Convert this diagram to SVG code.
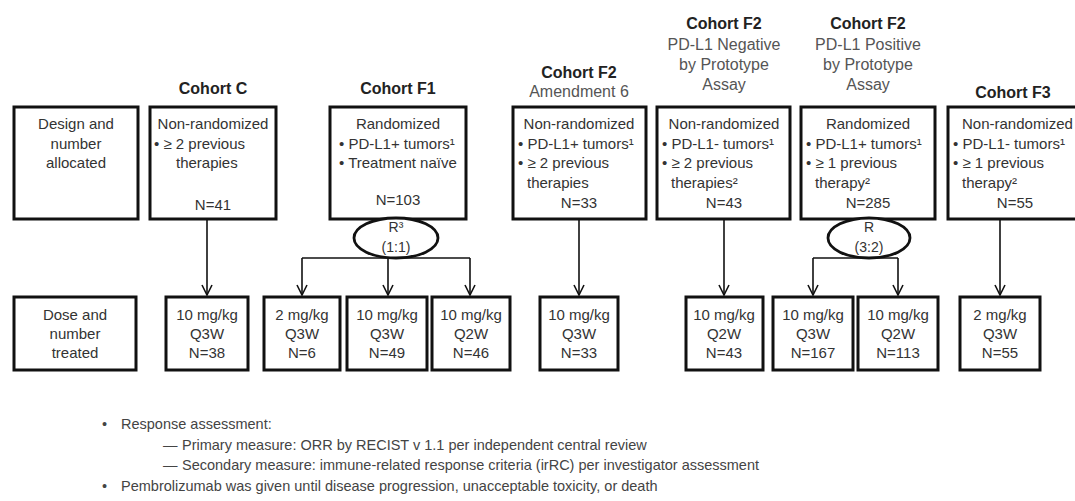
<svg xmlns="http://www.w3.org/2000/svg" width="1075" height="501" viewBox="0 0 1075 501">
<style>
.bg{fill:#fff}
.box{fill:#fff;stroke:#111;stroke-width:3}
.ell{fill:#fff;stroke:#111;stroke-width:2.8}
.t{font-family:"Liberation Sans",Arial,sans-serif;font-size:15px;fill:#333}
.c{text-anchor:middle}
.h{font-family:"Liberation Sans",Arial,sans-serif;font-size:16px;font-weight:bold;fill:#222;text-anchor:middle}
.sub{font-family:"Liberation Sans",Arial,sans-serif;font-size:16px;fill:#555;text-anchor:middle}
.e{font-family:"Liberation Sans",Arial,sans-serif;font-size:14px;fill:#333;text-anchor:middle}
.conn{stroke:#111;stroke-width:1.6;fill:none}
.note{font-family:"Liberation Sans",Arial,sans-serif;font-size:14.5px;fill:#444}
</style>
<defs>
<marker id="arr" viewBox="0 0 12 12" refX="11" refY="6" markerWidth="12" markerHeight="12" markerUnits="userSpaceOnUse" orient="auto">
<path d="M1,1 L11,6 L1,11" fill="none" stroke="#111" stroke-width="1.6"/>
</marker>
</defs>
<rect class="bg" x="0" y="0" width="1075" height="501"/>

<g id="connectors">
<line class="conn" x1="207" y1="219" x2="207" y2="295" marker-end="url(#arr)"/>
<line class="conn" x1="302" y1="258" x2="470" y2="258"/>
<line class="conn" x1="302" y1="258" x2="302" y2="295" marker-end="url(#arr)"/>
<line class="conn" x1="388" y1="258" x2="388" y2="295" marker-end="url(#arr)"/>
<line class="conn" x1="470" y1="258" x2="470" y2="295" marker-end="url(#arr)"/>
<line class="conn" x1="579" y1="219" x2="579" y2="295" marker-end="url(#arr)"/>
<line class="conn" x1="724" y1="219" x2="724" y2="295" marker-end="url(#arr)"/>
<line class="conn" x1="813" y1="258" x2="898" y2="258"/>
<line class="conn" x1="813" y1="258" x2="813" y2="295" marker-end="url(#arr)"/>
<line class="conn" x1="898" y1="258" x2="898" y2="295" marker-end="url(#arr)"/>
<line class="conn" x1="1000" y1="219" x2="1000" y2="295" marker-end="url(#arr)"/>
</g>

<g id="design-allocated">
<rect class="box" x="14" y="107" width="124" height="112"/>
<text class="t c" x="76" y="129">Design and</text>
<text class="t c" x="76" y="149">number</text>
<text class="t c" x="76" y="168">allocated</text>
</g>

<g id="cohort-c">
<text class="h" x="213" y="94">Cohort C</text>
<rect class="box" x="150" y="107" width="126" height="112"/>
<text class="t c" x="213" y="129">Non-randomized</text>
<text class="t" x="154" y="149">• ≥ 2 previous</text>
<text class="t" x="176" y="168">therapies</text>
<text class="t c" x="213" y="210">N=41</text>
</g>

<g id="cohort-f1">
<text class="h" x="398" y="94">Cohort F1</text>
<rect class="box" x="330" y="107" width="136" height="112"/>
<text class="t c" x="398" y="129">Randomized</text>
<text class="t" x="339" y="149">• PD-L1+ tumors¹</text>
<text class="t" x="339" y="168">• Treatment naïve</text>
<text class="t c" x="398" y="205">N=103</text>
<ellipse class="ell" cx="396" cy="238" rx="42" ry="20"/>
<text class="e" x="396" y="232">R³</text>
<text class="e" x="396" y="252">(1:1)</text>
</g>

<g id="cohort-f2-a6">
<text class="h" x="579" y="78">Cohort F2</text>
<text class="sub" x="579" y="97">Amendment 6</text>
<rect class="box" x="513" y="107" width="133" height="112"/>
<text class="t c" x="579" y="129">Non-randomized</text>
<text class="t" x="518" y="149">• PD-L1+ tumors¹</text>
<text class="t" x="518" y="168">• ≥ 2 previous</text>
<text class="t" x="527" y="188">therapies</text>
<text class="t c" x="579" y="208">N=33</text>
</g>

<g id="cohort-f2-neg">
<text class="h" x="724" y="29">Cohort F2</text>
<text class="sub" x="724" y="50">PD-L1 Negative</text>
<text class="sub" x="724" y="70">by Prototype</text>
<text class="sub" x="724" y="90">Assay</text>
<rect class="box" x="657" y="107" width="133" height="112"/>
<text class="t c" x="724" y="129">Non-randomized</text>
<text class="t" x="662" y="149">• PD-L1- tumors¹</text>
<text class="t" x="662" y="168">• ≥ 2 previous</text>
<text class="t" x="671" y="188">therapies²</text>
<text class="t c" x="724" y="208">N=43</text>
</g>

<g id="cohort-f2-pos">
<text class="h" x="868" y="29">Cohort F2</text>
<text class="sub" x="868" y="50">PD-L1 Positive</text>
<text class="sub" x="868" y="70">by Prototype</text>
<text class="sub" x="868" y="90">Assay</text>
<rect class="box" x="801" y="107" width="134" height="112"/>
<text class="t c" x="868" y="129">Randomized</text>
<text class="t" x="806" y="149">• PD-L1+ tumors¹</text>
<text class="t" x="806" y="168">• ≥ 1 previous</text>
<text class="t" x="815" y="188">therapy²</text>
<text class="t c" x="868" y="208">N=285</text>
<ellipse class="ell" cx="869" cy="238" rx="41" ry="20"/>
<text class="e" x="869" y="232">R</text>
<text class="e" x="869" y="252">(3:2)</text>
</g>

<g id="cohort-f3">
<text class="h" x="1013" y="98">Cohort F3</text>
<rect class="box" x="948" y="107" width="140" height="112"/>
<text class="t" x="962" y="129">Non-randomized</text>
<text class="t" x="953" y="149">• PD-L1- tumors¹</text>
<text class="t" x="953" y="168">• ≥ 1 previous</text>
<text class="t" x="962" y="188">therapy²</text>
<text class="t c" x="1015" y="208">N=55</text>
</g>

<g id="dose-treated">
<rect class="box" x="14" y="297" width="122" height="73"/>
<text class="t c" x="75" y="320">Dose and</text>
<text class="t c" x="75" y="339">number</text>
<text class="t c" x="75" y="358">treated</text>
</g>

<g id="dose-c">
<rect class="box" x="166" y="297" width="82" height="73"/>
<text class="t c" x="207" y="320">10 mg/kg</text>
<text class="t c" x="207" y="339">Q3W</text>
<text class="t c" x="207" y="358">N=38</text>
</g>
<g id="dose-f1-a">
<rect class="box" x="264" y="297" width="76" height="73"/>
<text class="t c" x="302" y="320">2 mg/kg</text>
<text class="t c" x="302" y="339">Q3W</text>
<text class="t c" x="302" y="358">N=6</text>
</g>
<g id="dose-f1-b">
<rect class="box" x="347" y="297" width="80" height="73"/>
<text class="t c" x="387" y="320">10 mg/kg</text>
<text class="t c" x="387" y="339">Q3W</text>
<text class="t c" x="387" y="358">N=49</text>
</g>
<g id="dose-f1-c">
<rect class="box" x="432" y="297" width="78" height="73"/>
<text class="t c" x="471" y="320">10 mg/kg</text>
<text class="t c" x="471" y="339">Q2W</text>
<text class="t c" x="471" y="358">N=46</text>
</g>
<g id="dose-f2-a6">
<rect class="box" x="540" y="297" width="78" height="73"/>
<text class="t c" x="579" y="320">10 mg/kg</text>
<text class="t c" x="579" y="339">Q3W</text>
<text class="t c" x="579" y="358">N=33</text>
</g>
<g id="dose-f2-neg">
<rect class="box" x="686" y="297" width="77" height="73"/>
<text class="t c" x="724" y="320">10 mg/kg</text>
<text class="t c" x="724" y="339">Q2W</text>
<text class="t c" x="724" y="358">N=43</text>
</g>
<g id="dose-f2-pos-a">
<rect class="box" x="773" y="297" width="80" height="73"/>
<text class="t c" x="813" y="320">10 mg/kg</text>
<text class="t c" x="813" y="339">Q3W</text>
<text class="t c" x="813" y="358">N=167</text>
</g>
<g id="dose-f2-pos-b">
<rect class="box" x="858" y="297" width="80" height="73"/>
<text class="t c" x="898" y="320">10 mg/kg</text>
<text class="t c" x="898" y="339">Q2W</text>
<text class="t c" x="898" y="358">N=113</text>
</g>
<g id="dose-f3">
<rect class="box" x="960" y="297" width="80" height="73"/>
<text class="t c" x="1000" y="320">2 mg/kg</text>
<text class="t c" x="1000" y="339">Q3W</text>
<text class="t c" x="1000" y="358">N=55</text>
</g>

<g id="notes">
<text class="note" x="102" y="429">•</text>
<text class="note" x="121" y="429">Response assessment:</text>
<text class="note" x="163" y="450">—</text>
<text class="note" x="182" y="450">Primary measure: ORR by RECIST v 1.1 per independent central review</text>
<text class="note" x="163" y="470">—</text>
<text class="note" x="182" y="470">Secondary measure: immune-related response criteria (irRC) per investigator assessment</text>
<text class="note" x="102" y="491">•</text>
<text class="note" x="121" y="491">Pembrolizumab was given until disease progression, unacceptable toxicity, or death</text>
</g>
</svg>
